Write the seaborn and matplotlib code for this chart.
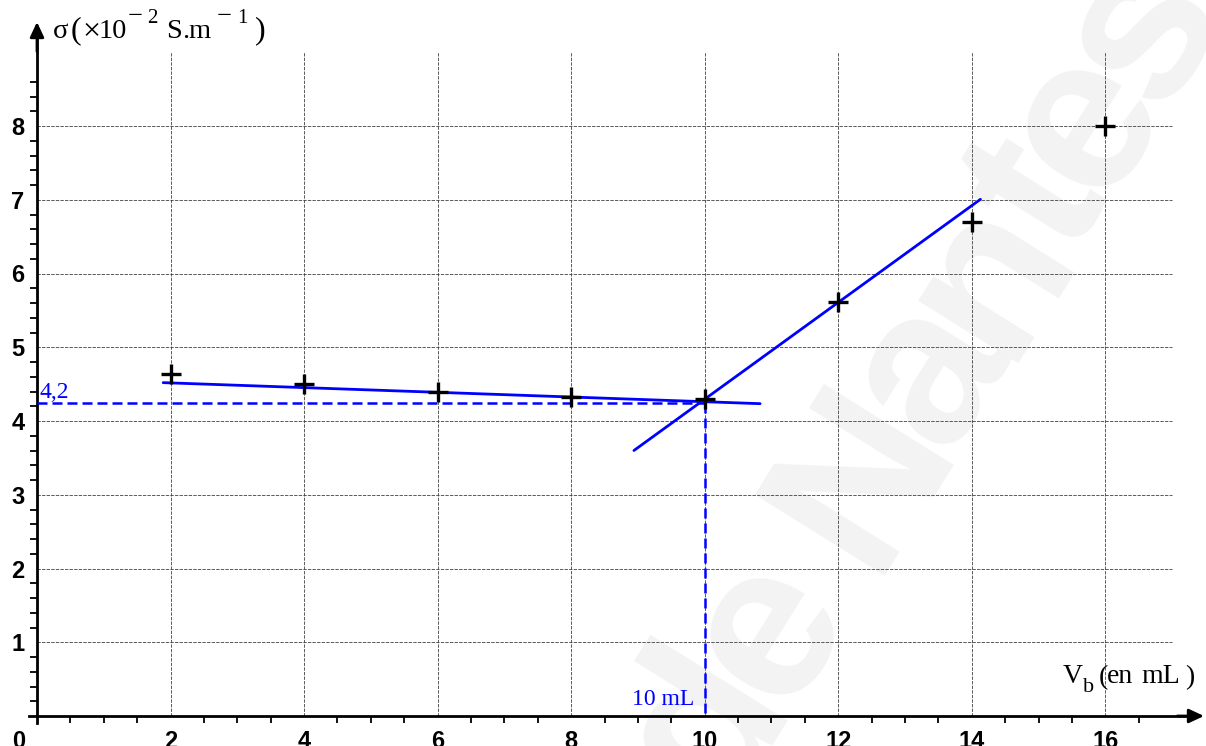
import numpy as np
import matplotlib
matplotlib.use("Agg")
import matplotlib.pyplot as plt
import seaborn as sns
from matplotlib.ticker import FixedLocator

# ---------------- data ----------------
volume_ml = [2, 4, 6, 8, 10, 12, 14, 16]
conductivity = [4.64, 4.50, 4.39, 4.32, 4.30, 5.62, 6.70, 8.00]

tangent1_x = [1.89, 10.83]
tangent1_y = [4.52, 4.235]
tangent2_x = [8.94, 14.13]
tangent2_y = [3.60, 7.006]

v_eq = 10
sigma_eq = 4.24
sigma_eq_label = "4,2"
v_eq_label = "10 mL"

x_ticks = [2, 4, 6, 8, 10, 12, 14, 16]
x_ticklabels = ["2", "4", "6", "8", "10", "12", "14", "16"]
y_ticks = [1, 2, 3, 4, 5, 6, 7, 8]
y_ticklabels = ["1", "2", "3", "4", "5", "6", "7", "8"]

# axis titles "σ (×10⁻² S.m⁻¹)" and "V_b (en mL)", split in typeset pieces
y_label_parts = ["σ", "(", "×", "10", "−", "2", "S", ".", "m", "−", "1", ")"]
x_label_parts = ["V", "b", "(", "en", "mL", ")"]
watermark = "de Nantes"

# ---------------- style ----------------
sns.set_style("white")
plt.rcParams["font.family"] = ["Liberation Sans", "DejaVu Sans"]
plt.rcParams["text.color"] = "black"
plt.rcParams["xtick.color"] = "black"
plt.rcParams["ytick.color"] = "black"

W, H = 1206, 746
fig = plt.figure(figsize=(W / 100, H / 100), dpi=100)
ax = fig.add_axes([0, 0, 1, 1])

# pixel geometry of the reference
x0px, y0px = 37.0, 716.0
sx, sy = 66.77, 73.75
ax.set_xlim(-x0px / sx, (W - x0px) / sx)
ax.set_ylim(-(H - y0px) / sy, y0px / sy)
ax.set_facecolor("white")

# ---------------- watermark ----------------
adv = {"d": 0.611, "e": 0.556, " ": 0.278, "N": 0.722, "a": 0.556,
       "n": 0.611, "t": 0.333, "s": 0.556}
ang = np.deg2rad(58)
ux, uy = np.cos(ang), np.sin(ang)
E_sp = 196.0
centers = []
pos = 0.0
for ch in watermark:
    centers.append(pos + adv[ch] / 2)
    pos += adv[ch]
ref_c = centers[1]  # the 'e' of "de"
ref_px = (768.0, H - 630.0)
for ch, c in zip(watermark, centers):
    if ch == " ":
        continue
    d = (c - ref_c) * E_sp
    px = ref_px[0] + d * ux
    py = ref_px[1] + d * uy
    ax.text(px / W, py / H, ch, transform=fig.transFigure, rotation=58,
            rotation_mode="anchor", ha="center", va="center",
            fontsize=160, fontweight="bold", color="#f3f3f3", zorder=0,
            family="Liberation Sans")

# ---------------- grid ----------------
grid_kw = dict(color="0.25", lw=0.6, linestyle=(0, (4, 1.5)), zorder=1)
ax.vlines(x_ticks, 0, 9, **grid_kw)
ax.hlines(y_ticks, 0, 17, **grid_kw)

# ---------------- axes (spines with arrows) ----------------
for s in ["top", "right"]:
    ax.spines[s].set_visible(False)
for s in ["left", "bottom"]:
    ax.spines[s].set_position(("data", 0))
    ax.spines[s].set_linewidth(2)
    ax.spines[s].set_color("black")
x_tip = (1204 - x0px) / sx
y_tip = (y0px - 22) / sy
ax.spines["bottom"].set_bounds(-0.12, x_tip - 0.15)
ax.spines["left"].set_bounds(-0.1, y_tip - 0.15)
arrow = dict(arrowstyle="-|>,head_length=0.9,head_width=0.42", color="black",
             lw=2, shrinkA=0, shrinkB=0)
ax.annotate("", xy=(x_tip, 0), xytext=(x_tip - 0.4, 0), arrowprops=arrow,
            annotation_clip=False, zorder=6)
ax.annotate("", xy=(0, y_tip), xytext=(0, y_tip - 0.4), arrowprops=arrow,
            annotation_clip=False, zorder=6)

# ticks
ax.set_xticks(x_ticks)
ax.set_xticklabels(x_ticklabels, fontsize=17, fontweight="bold", color="black")
ax.set_yticks(y_ticks)
ax.set_yticklabels(y_ticklabels, fontsize=17, fontweight="bold", color="black")
x_minor = [k * 0.5 for k in range(1, 34) if k % 4 != 0]
y_minor = [round(k * 0.2, 2) for k in range(1, 44) if k % 5 != 0]
ax.xaxis.set_minor_locator(FixedLocator(x_minor))
ax.yaxis.set_minor_locator(FixedLocator(y_minor))
ax.tick_params(axis="x", which="major", length=0, pad=10, bottom=True,
               labelcolor="black")
ax.tick_params(axis="y", which="major", length=0, pad=9, left=True,
               labelcolor="black")
ax.tick_params(axis="both", which="minor", length=5, width=1.3,
               direction="out", color="black", bottom=True, left=True)
# "0" origin label
ax.annotate("0", xy=(0, 0), xytext=(-18, -14), textcoords="offset pixels",
            ha="center", va="top", fontsize=17, fontweight="bold",
            color="black", annotation_clip=False)

# ---------------- tangents and construction ----------------
sns.lineplot(x=tangent1_x, y=tangent1_y, color="blue", linewidth=2,
             estimator=None, sort=False, ax=ax, zorder=3)
sns.lineplot(x=tangent2_x, y=tangent2_y, color="blue", linewidth=2,
             estimator=None, sort=False, ax=ax, zorder=3)
ax.plot([0, v_eq], [sigma_eq, sigma_eq], color="blue", lw=1.8,
        linestyle=(0, (4, 2)), zorder=3)
ax.plot([v_eq, v_eq], [sigma_eq, 0], color="blue", lw=1.8,
        linestyle=(0, (4, 2)), zorder=3)

# ---------------- data points ----------------
sns.scatterplot(x=volume_ml, y=conductivity, marker="+", s=200,
                color="black", linewidth=2.4, ax=ax, zorder=5)

# ---------------- texts ----------------
ax.annotate(sigma_eq_label, xy=(0, sigma_eq), xytext=(3, 5),
            textcoords="offset pixels", ha="left", va="baseline",
            fontsize=17, color="blue", family="Liberation Serif")
ax.annotate(v_eq_label, xy=(v_eq, 0), xytext=(-10, 11),
            textcoords="offset pixels", ha="right", va="baseline",
            fontsize=17, color="blue", family="Liberation Serif")

# axis titles laid out piece by piece (left x, baseline y in pixels, size)
y_label_layout = [(53, 38, 20.5), (71, 38, 23), (82, 39, 23),
                  (99, 38, 20.5), (128, 23, 19), (147, 23, 15),
                  (166, 38, 20.5), (182, 38, 20.5), (188, 38, 20.5),
                  (217, 23, 19), (237, 23, 15), (255, 38, 23)]
x_label_layout = [(1063, 683, 20), (1083, 692, 16), (1099, 684, 20),
                  (1107, 683, 20), (1141, 683, 20), (1185, 684, 20)]
for parts, layout in ((y_label_parts, y_label_layout),
                      (x_label_parts, x_label_layout)):
    for txt, (px, py, fs) in zip(parts, layout):
        fig.text(px / W, 1 - py / H, txt, ha="left", va="baseline",
                 fontsize=fs, color="black", family="Liberation Serif")

ax.set_xlabel("")
ax.set_ylabel("")
fig.savefig("out.png", dpi=100)
